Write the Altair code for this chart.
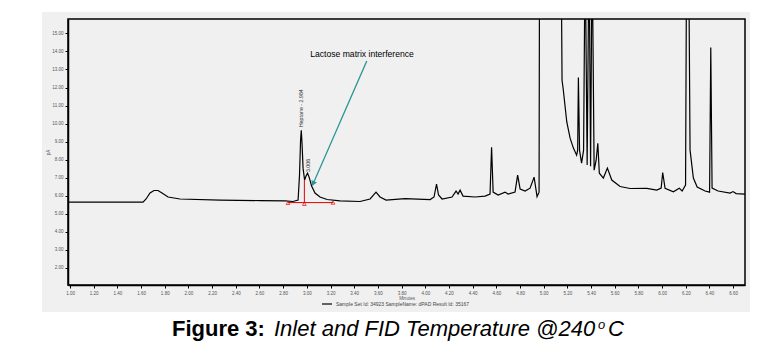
import altair as alt
import pandas as pd

# ---------------- data ----------------
time_min = [0.983, 1.617, 1.642, 1.676, 1.709, 1.743, 1.777, 1.828, 1.929, 2.267,
            2.605, 2.816, 2.883, 2.926, 2.938, 2.947, 2.953, 2.960, 2.968, 2.981,
            2.993, 3.006, 3.019, 3.040, 3.069, 3.111, 3.171, 3.280, 3.449, 3.534,
            3.584, 3.618, 3.669, 3.829, 4.041, 4.074, 4.095, 4.112, 4.142, 4.226,
            4.260, 4.277, 4.294, 4.319, 4.421, 4.505, 4.547, 4.560, 4.573, 4.615,
            4.674, 4.699, 4.758, 4.780, 4.801, 4.843, 4.885, 4.919, 4.944, 4.961,
            4.965, 5.147, 5.155, 5.164, 5.195, 5.223, 5.251, 5.278, 5.287, 5.293,
            5.303, 5.320, 5.337, 5.350, 5.367, 5.383, 5.396, 5.409, 5.426, 5.443,
            5.457, 5.470, 5.504, 5.538, 5.575, 5.645, 5.730, 5.871, 5.955, 5.992,
            6.005, 6.025, 6.095, 6.145, 6.169, 6.198, 6.207, 6.224, 6.236, 6.264,
            6.296, 6.363, 6.401, 6.411, 6.422, 6.473, 6.574, 6.599, 6.625, 6.701]
signal_pA = [5.65, 5.65, 5.82, 6.15, 6.29, 6.29, 6.15, 5.93, 5.82, 5.76,
             5.73, 5.71, 5.68, 5.76, 7.14, 9.08, 9.63, 8.80, 7.53, 6.87,
             7.09, 7.25, 7.03, 6.54, 6.15, 5.93, 5.79, 5.71, 5.68, 5.82,
             6.20, 5.93, 5.76, 5.84, 5.79, 5.93, 6.65, 6.04, 5.82, 5.93,
             6.26, 6.09, 6.31, 5.98, 5.93, 5.98, 6.09, 8.69, 6.20, 6.04,
             6.20, 6.09, 6.20, 7.14, 6.37, 6.26, 6.42, 7.03, 5.95, 6.20,
             20.0, 20.0, 12.40, 11.96, 10.09, 9.19, 8.64, 8.25, 8.53, 12.56,
             8.50, 7.81, 8.53, 20.0, 7.70, 20.0, 7.64, 20.0, 7.42, 7.97,
             8.91, 7.25, 6.98, 7.53, 6.87, 6.51, 6.40, 6.41, 6.31, 6.42,
             7.29, 6.41, 6.22, 6.42, 6.26, 6.59, 20.0, 20.0, 8.53, 6.98,
             6.48, 6.26, 6.20, 14.22, 6.42, 6.26, 6.15, 6.23, 6.12, 6.09]
series_name = "Sample Set Id: 34923 SampleName: dPAD Result Id: 35167"

x_ticks = [1.0, 1.2, 1.4, 1.6, 1.8, 2.0, 2.2, 2.4, 2.6, 2.8, 3.0, 3.2, 3.4, 3.6, 3.8,
           4.0, 4.2, 4.4, 4.6, 4.8, 5.0, 5.2, 5.4, 5.6, 5.8, 6.0, 6.2, 6.4, 6.6]
y_ticks = [2.0, 3.0, 4.0, 5.0, 6.0, 7.0, 8.0, 9.0, 10.0, 11.0, 12.0, 13.0, 14.0, 15.0]

peak_labels = ["Heptane - 2.984", "3.006"]
peak_label_x = [2.953, 3.006]
peak_label_y = [9.80, 7.31]

integ_x = [2.841, 3.221]
integ_y = [5.62, 5.62]
drop_x = [2.979]
drop_y = [6.87]
drop_y2 = [5.62]
integ_marker_x = [2.841, 2.979, 3.221]
integ_marker_y = [5.60, 5.55, 5.62]

note_text = ["Lactose matrix interference"]
note_x = [3.466]
note_y = [13.67]
arrow_x = [3.506]
arrow_y = [13.47]
arrow_x2 = [3.053]
arrow_y2 = [6.67]

caption_bold = "Figure 3:"
caption_italic = "Inlet and FID Temperature @240"
caption_sup = "o"
caption_end = "C"

FONT = "Liberation Sans"
W, H = 677, 266
XDOM = [0.983, 6.70]
YDOM = [1.05, 15.8]

xs = alt.Scale(domain=XDOM, nice=False, zero=False)
ys = alt.Scale(domain=YDOM, nice=False, zero=False)

x_axis = alt.Axis(values=x_ticks, format=".2f", title="Minutes", grid=False,
                  labelFontSize=4.5, labelColor="#555", labelFont=FONT,
                  labelOverlap=False,
                  titleFontSize=4.5, titleFont=FONT, titleFontWeight="normal",
                  titleColor="#555", titlePadding=1, labelPadding=2,
                  tickSize=3, tickColor="black", domainColor="black",
                  domainWidth=1.5, labelFlush=False, zindex=1)
y_axis = alt.Axis(values=y_ticks, format=".2f", title="pA", grid=False,
                  labelFontSize=4.5, labelColor="#555", labelFont=FONT,
                  labelOverlap=False,
                  titleFontSize=4.5, titleFont=FONT, titleFontWeight="normal",
                  titleColor="#555", titlePadding=1, labelPadding=2,
                  tickSize=3, tickColor="black", domainColor="black",
                  domainWidth=1.5, zindex=1)


def X(field):
    return alt.X(field, type="quantitative", scale=xs, axis=x_axis)


def Y(field):
    return alt.Y(field, type="quantitative", scale=ys, axis=y_axis)


trace_df = pd.DataFrame({"t": time_min, "s": signal_pA, "series": [series_name] * len(time_min)})

bg = alt.Chart(pd.DataFrame({"a": [0]})).mark_rect(color="#f0f0f0").encode(
    x=alt.value(-26), x2=alt.value(682), y=alt.value(-7), y2=alt.value(293))

frame = alt.Chart(pd.DataFrame({"a": [0]})).mark_rect(
    fillOpacity=0, stroke="black", strokeWidth=1.5).encode(
    x=alt.value(0), x2=alt.value(W), y=alt.value(0), y2=alt.value(H))

trace = alt.Chart(trace_df).mark_line(clip=True, strokeWidth=1.2).encode(
    x=X("t"),
    y=Y("s"),
    color=alt.Color("series:N", scale=alt.Scale(range=["black"]),
                    legend=alt.Legend(title=None, orient="none", legendX=253, legendY=279,
                                      symbolType="stroke", symbolSize=100,
                                      symbolStrokeWidth=1.2, labelFontSize=5,
                                      labelFont=FONT, labelColor="#444", labelOffset=3)),
)

integ_line = alt.Chart(pd.DataFrame({"x": integ_x, "y": integ_y})).mark_line(
    color="#e00000", strokeWidth=1).encode(x=X("x"), y=Y("y"))

drop_line = alt.Chart(pd.DataFrame({"x": drop_x, "y": drop_y, "y2": drop_y2})).mark_rule(
    color="#e00000", strokeWidth=1).encode(x=X("x"), y=Y("y"), y2="y2:Q")

integ_marks = alt.Chart(pd.DataFrame({"x": integ_marker_x, "y": integ_marker_y})).mark_point(
    shape="triangle-up", size=14, color="#e00000", filled=False, strokeWidth=1).encode(
    x=X("x"), y=Y("y"))

peak_text = alt.Chart(pd.DataFrame({"x": peak_label_x, "y": peak_label_y, "t": peak_labels})).mark_text(
    angle=270, align="left", baseline="middle", fontSize=5.3, font=FONT, color="#333").encode(
    x=X("x"), y=Y("y"), text="t:N")

note = alt.Chart(pd.DataFrame({"x": note_x, "y": note_y, "t": note_text})).mark_text(
    align="center", baseline="alphabetic", fontSize=8.6, font=FONT, color="black").encode(
    x=X("x"), y=Y("y"), text="t:N")

arrow = alt.Chart(pd.DataFrame({"x": arrow_x, "y": arrow_y, "x2": arrow_x2, "y2": arrow_y2})).mark_rule(
    color="#2a9595", strokeWidth=1.3).encode(x=X("x"), y=Y("y"), x2="x2:Q", y2="y2:Q")

arrow_head = alt.Chart(pd.DataFrame({"x": arrow_x2, "y": arrow_y2})).mark_point(
    shape="triangle-down", angle=24, size=36, filled=True, color="#2a9595", opacity=1).encode(
    x=X("x"), y=Y("y"))

one = pd.DataFrame({"a": [0]})
cap1 = alt.Chart(one).mark_text(text=caption_bold, align="left", baseline="alphabetic",
                                fontSize=22, fontWeight="bold", font=FONT, color="black").encode(
    x=alt.value(104), y=alt.value(317))
cap2 = alt.Chart(one).mark_text(text=caption_italic, align="left", baseline="alphabetic",
                                fontSize=22, fontStyle="italic", font=FONT, color="black").encode(
    x=alt.value(206), y=alt.value(317))
cap3 = alt.Chart(one).mark_text(text=caption_sup, align="left", baseline="alphabetic",
                                fontSize=13, fontStyle="italic", font=FONT, color="black").encode(
    x=alt.value(530), y=alt.value(310))
cap4 = alt.Chart(one).mark_text(text=caption_end, align="left", baseline="alphabetic",
                                fontSize=22, fontStyle="italic", font=FONT, color="black").encode(
    x=alt.value(540), y=alt.value(317))

chart = alt.layer(
    bg, frame, trace, integ_line, drop_line, integ_marks, peak_text, note, arrow, arrow_head,
    cap1, cap2, cap3, cap4
).properties(
    width=W, height=H,
    autosize=alt.AutoSizeParams(type="none"),
    padding={"left": 60, "top": 11, "right": 20, "bottom": 70},
    background="white",
).configure_view(stroke=None)

chart.save("out.html", embed_options={"renderer": "svg", "actions": False})
